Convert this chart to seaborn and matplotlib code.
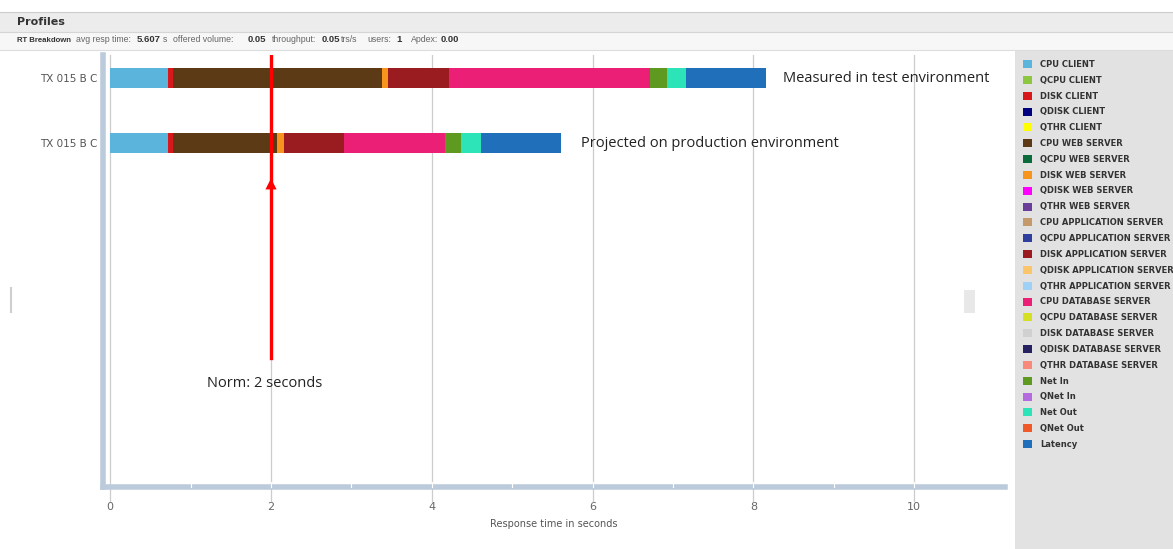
import numpy as np
import pandas as pd
import seaborn as sns
import matplotlib.pyplot as plt
from matplotlib.patches import Patch, Rectangle

# --- data ---
components = [
    "CPU CLIENT", "QCPU CLIENT", "DISK CLIENT", "QDISK CLIENT", "QTHR CLIENT",
    "CPU WEB SERVER", "QCPU WEB SERVER", "DISK WEB SERVER", "QDISK WEB SERVER", "QTHR WEB SERVER",
    "CPU APPLICATION SERVER", "QCPU APPLICATION SERVER", "DISK APPLICATION SERVER",
    "QDISK APPLICATION SERVER", "QTHR APPLICATION SERVER",
    "CPU DATABASE SERVER", "QCPU DATABASE SERVER", "DISK DATABASE SERVER",
    "QDISK DATABASE SERVER", "QTHR DATABASE SERVER",
    "Net In", "QNet In", "Net Out", "QNet Out", "Latency",
]
colors = [
    "#5ab4dc", "#8dc63f", "#d7191c", "#000080", "#ffff00",
    "#5c3a16", "#0b6b3a", "#f7941d", "#ff00ff", "#6a3d9a",
    "#c49a6c", "#2e3f9e", "#9b1c20", "#fdc56a", "#9fd0f5",
    "#ec1f77", "#d4e021", "#d0d0d0", "#262262", "#f9897b",
    "#5e9920", "#b46be0", "#2de3b8", "#f05a28", "#1f6fba",
]
scenarios = ["measured", "projected"]
row_labels = ["TX 015 B C", "TX 015 B C"]
measured = [0.72, 0, 0.06, 0, 0, 2.60, 0, 0.07, 0, 0, 0, 0, 0.77, 0, 0,
            2.50, 0, 0, 0, 0, 0.20, 0, 0.24, 0, 1.00]
projected = [0.72, 0, 0.06, 0, 0, 1.29, 0, 0.09, 0, 0, 0, 0, 0.75, 0, 0,
             1.25, 0, 0, 0, 0, 0.20, 0, 0.25, 0, 1.00]
header_items = [("RT Breakdown", True), ("avg resp time:", False), ("5.607", True),
                ("s", False), ("offered volume:", False), ("0.05", True),
                ("throughput:", False), ("0.05", True), ("trs/s", False),
                ("users:", False), ("1", True), ("Apdex:", False), ("0.00", True)]
header_x = [17, 76, 137, 163, 173, 248, 272, 322, 341, 367, 396, 411, 441]

df = pd.DataFrame({"measured": measured, "projected": projected}, index=components)
cum = df.cumsum()

W, H = 1173, 549
fig = plt.figure(figsize=(W / 100, H / 100), dpi=100)

# header
fig.add_artist(Rectangle((0, 1 - 32 / H), 1, 20 / H, transform=fig.transFigure,
                         facecolor="#ececec", edgecolor="none"))
fig.add_artist(Rectangle((0, 1 - 50 / H), 1, 18 / H, transform=fig.transFigure,
                         facecolor="#f7f7f7", edgecolor="none"))
fig.add_artist(plt.Line2D([0, 1], [1 - 12 / H] * 2, color="#cccccc", lw=0.8))
fig.add_artist(plt.Line2D([0, 1], [1 - 32 / H] * 2, color="#d5d5d5", lw=0.8))
fig.add_artist(plt.Line2D([0, 1], [1 - 50 / H] * 2, color="#dddddd", lw=0.8))
fig.text(17 / W, 1 - 22 / H, "Profiles", fontsize=8, fontweight="bold",
         color="#333333", va="center")

for i, ((txt, bold), xp) in enumerate(zip(header_items, header_x)):
    size = 6.3 if not bold else (5.6 if i == 0 else 6.8)
    fig.text(xp / W, 1 - 40 / H, txt, fontsize=size,
             family="Liberation Sans", fontweight="bold" if bold else "normal",
             color="#333333" if bold else "#666666", va="center")

# legend panel and screenshot leftovers
fig.add_artist(Rectangle((1015 / W, 0), 158 / W, 1 - 50 / H, transform=fig.transFigure,
                         facecolor="#e2e2e2", edgecolor="none"))
fig.add_artist(Rectangle((964 / W, 1 - 313 / H), 11 / W, 23 / H, transform=fig.transFigure,
                         facecolor="#e8e8e8", edgecolor="none"))
fig.add_artist(plt.Line2D([11 / W] * 2, [1 - 312 / H, 1 - 288 / H], color="#cfcfcf", lw=1.5))

ax = fig.add_axes([103 / W, 1 - 487 / H, (1005 - 103) / W, (487 - 55) / H])

# stacked bars: draw cumulative totals from last component to first
for comp, col in zip(reversed(components), reversed(colors)):
    sns.barplot(x=cum.loc[comp, scenarios].values, y=scenarios, orient="h",
                color=col, width=0.31, ax=ax, saturation=1, edgecolor="none")

ax.set_xlim(-0.09, 11.13)
ax.set_ylim(6.29, -0.354)
ax.set_xticks([0, 2, 4, 6, 8, 10])
ax.set_xticklabels(["0", "2", "4", "6", "8", "10"], fontsize=8, color="#666666")
ax.set_yticks([0, 1])
ax.set_yticklabels(row_labels, fontsize=7.5, color="#555555")
ax.tick_params(axis="x", length=0, pad=11)
ax.tick_params(axis="y", length=0, pad=4)
ax.set_xlabel("Response time in seconds", fontsize=7, color="#555555", labelpad=5)
ax.set_ylabel("")
ax.grid(axis="x", color="#cccccc", lw=0.9)
ax.set_axisbelow(True)
for s in ["top", "right"]:
    ax.spines[s].set_visible(False)
for s in ["left", "bottom"]:
    ax.spines[s].set_color("#bccbdb")
    ax.spines[s].set_linewidth(4)
for t in range(1, 11):
    ax.plot([t, t], [6.29, 6.22], color="white", lw=0.8, clip_on=False, zorder=5)
for t in [0, 2, 4, 6, 8, 10]:
    ax.plot([t, t], [6.3, 6.5], color="#cccccc", lw=0.9, clip_on=False, zorder=1)

# norm line
ax.axvline(2, ymin=(487 - 358) / 432, ymax=1, color="red", lw=2.4, zorder=6)
ax.annotate("", xy=(2, 1.5), xytext=(2, 1.72),
            arrowprops=dict(arrowstyle="-|>", color="red", lw=0, mutation_scale=20), zorder=7)
ax.text(1.2, 4.7, "Norm: 2 seconds", fontsize=10.5, family="Open Sans", color="#222222",
        va="center")
ax.text(8.37, 0, "Measured in test environment", fontsize=10.5, family="Open Sans",
        color="#222222", va="center")
ax.text(5.85, 1, "Projected on production environment", fontsize=10.5, family="Open Sans",
        color="#222222", va="center")

handles = [Patch(facecolor=c, edgecolor="none") for c in colors]
leg = fig.legend(handles, components, loc="upper left",
                 bbox_to_anchor=(1017 / W, 1 - 54 / H), frameon=False,
                 prop={"size": 6, "weight": "bold"}, handlelength=1.15, handleheight=1.1,
                 handletextpad=0.9, labelspacing=0.82, borderpad=0.2)
for t in leg.get_texts():
    t.set_color("#333333")

fig.savefig("out.png", dpi=100)
